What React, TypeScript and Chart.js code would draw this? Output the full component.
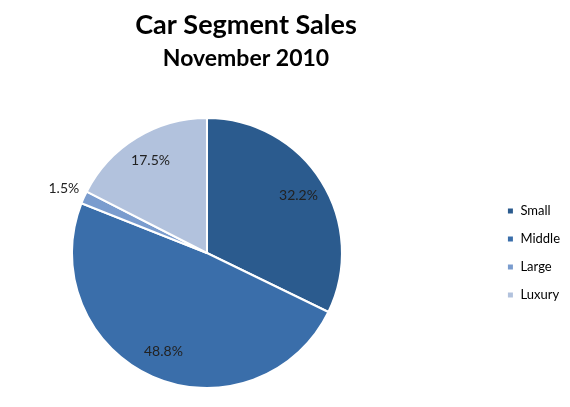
import React, { useEffect, useRef } from "react";
import { Chart, registerables } from "chart.js";
Chart.register(...registerables);

const segments = ["Small", "Middle", "Large", "Luxury"];
const shares = [32.2, 48.8, 1.5, 17.5];
const segmentColors = ["#2B5B8E", "#3A6EAA", "#7A9CCE", "#B2C2DD"];

const FONT = "Lato, 'Open Sans', sans-serif";
// the canvas is wider than the frame and shifted left, so the pie sits left of centre like the original
const SHIFT = 78;

// draws the percentage labels on (or just outside) each slice
const sliceLabels = {
  id: "sliceLabels",
  afterDatasetsDraw(chart: any) {
    const ctx = chart.ctx;
    const meta = chart.getDatasetMeta(0);
    ctx.save();
    ctx.font = `14px ${FONT}`;
    ctx.fillStyle = "#222";
    ctx.textAlign = "center";
    ctx.textBaseline = "middle";
    meta.data.forEach((arc: any, i: number) => {
      const { x, y, startAngle, endAngle, outerRadius } = arc.getProps(
        ["x", "y", "startAngle", "endAngle", "outerRadius"],
        true
      );
      const mid = (startAngle + endAngle) / 2;
      const v = shares[i];
      const r = v < 5 ? outerRadius + 22 : outerRadius * 0.8;
      ctx.fillText(v.toFixed(1) + "%", x + Math.cos(mid) * r, y + Math.sin(mid) * r);
    });
    ctx.restore();
  },
};

export default function App() {
  const canvasRef = useRef<HTMLCanvasElement | null>(null);

  useEffect(() => {
    document.body.style.margin = "0";
    if (!canvasRef.current) return;
    const chart = new Chart(canvasRef.current, {
      type: "pie",
      data: {
        labels: segments,
        datasets: [
          {
            data: shares,
            backgroundColor: segmentColors,
            borderColor: "#ffffff",
            borderWidth: 2,
            hoverOffset: 0,
          },
        ],
      },
      options: {
        animation: false,
        responsive: false,
        layout: { padding: { left: 0, right: 0, top: 0, bottom: 18 } },
        plugins: {
          title: {
            display: true,
            text: "Car Segment Sales",
            color: "#000",
            font: { family: FONT, size: 27, weight: "bold" },
            padding: { top: 9, bottom: 0 },
          },
          subtitle: {
            display: true,
            text: "November 2010",
            color: "#000",
            font: { family: FONT, size: 23, weight: "bold" },
            padding: { top: 3, bottom: 45 },
          },
          legend: {
            position: "right",
            fullSize: false,
            labels: {
              boxWidth: 7,
              boxHeight: 7,
              padding: 15,
              color: "#000",
              font: { family: FONT, size: 13 },
            },
          },
          tooltip: { enabled: false },
        },
      },
      plugins: [sliceLabels],
    });
    return () => chart.destroy();
  }, []);

  return (
    <div style={{ width: 570, height: 407, background: "#fff", overflow: "hidden", position: "relative" }}>
      <canvas
        ref={canvasRef}
        width={570 + SHIFT}
        height={407}
        style={{ position: "absolute", left: -SHIFT, top: 0 }}
      />
    </div>
  );
}
